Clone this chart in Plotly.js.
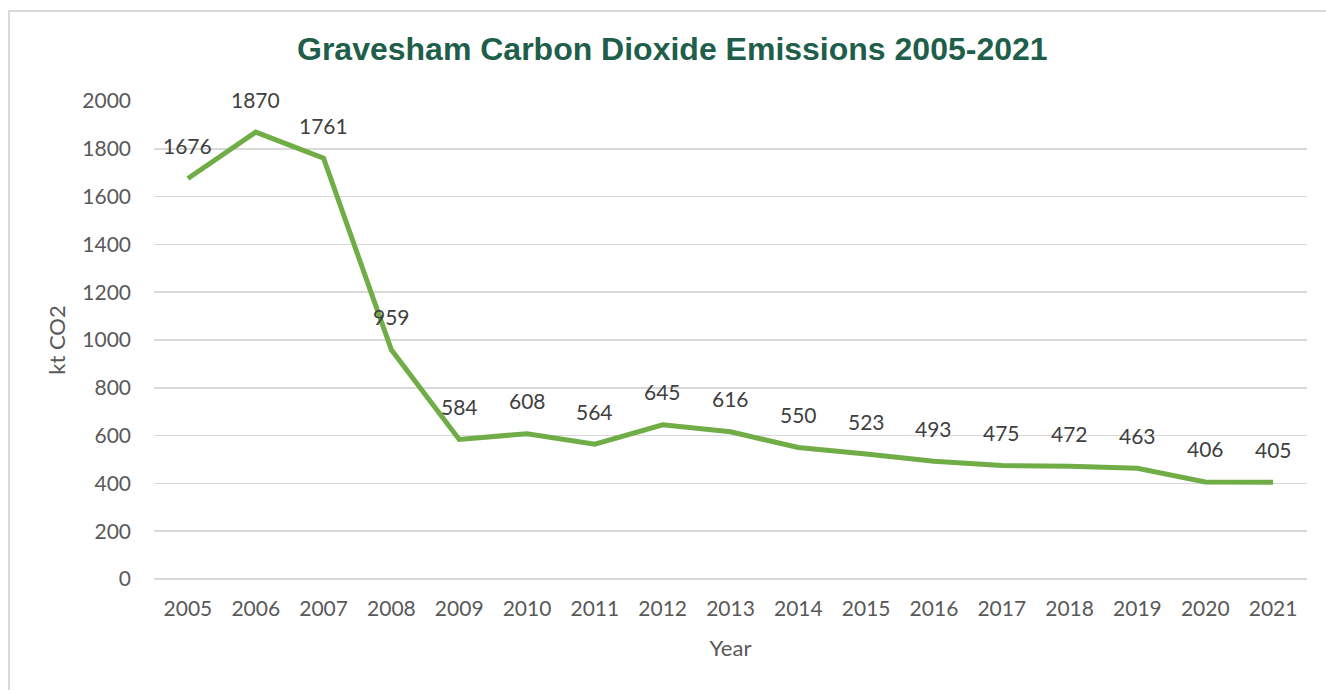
<!DOCTYPE html>
<html>
<head>
<meta charset="utf-8">
<script src="https://cdn.plot.ly/plotly-3.0.1.min.js"></script>
<style>
html,body{margin:0;padding:0;background:#fff;}
#wrap{position:relative;width:1326px;height:690px;overflow:hidden;}
#chart{width:1326px;height:690px;}
#frame{position:absolute;left:8px;top:10px;width:1400px;height:800px;border-top:2px solid #d9d9d9;border-left:2px solid #d9d9d9;pointer-events:none;}
</style>
</head>
<body>
<div id="wrap"><div id="chart"></div><div id="frame"></div></div>
<script>
const years = ['2005','2006','2007','2008','2009','2010','2011','2012','2013','2014','2015','2016','2017','2018','2019','2020','2021'];
const emissions = [1676,1870,1761,959,584,608,564,645,616,550,523,493,475,472,463,406,405];
const yTicks = [0,200,400,600,800,1000,1200,1400,1600,1800,2000];

const trace = {
  x: years, y: emissions, type: 'scatter', mode: 'lines',
  line: {color: '#70AD47', width: 5, shape: 'linear'},
  hoverinfo: 'x+y'
};

const labelFont = {family: 'Lato, "Open Sans", sans-serif', size: 21, color: '#404040'};
const annotations = years.map((yr, i) => ({
  x: i, y: emissions[i], xref: 'x', yref: 'y',
  text: String(emissions[i]), showarrow: false,
  yanchor: 'middle', xanchor: 'center', yshift: 33,
  font: labelFont
}));

const layout = {
  width: 1326, height: 690,
  margin: {l: 154, r: 19, t: 101, b: 111},
  paper_bgcolor: '#ffffff', plot_bgcolor: '#ffffff',
  showlegend: false,
  title: {
    text: 'Gravesham Carbon Dioxide Emissions 2005-2021',
    font: {family: '"Liberation Sans", Arial, sans-serif', size: 32, color: '#1E5E4A', weight: 'bold'},
    x: 0.507, xref: 'container', xanchor: 'center', y: 0.93, yref: 'container', yanchor: 'middle'
  },
  xaxis: {
    type: 'category', categoryorder: 'array', categoryarray: years,
    range: [-0.5, 16.5],
    showgrid: false, zeroline: false, showline: false, ticks: '',
    tickfont: {family: 'Lato, "Open Sans", sans-serif', size: 21, color: '#595959'},
    ticklabelstandoff: 15,
    title: {text: 'Year', font: {family: 'Lato, "Open Sans", sans-serif', size: 22, color: '#595959'}, standoff: 21}
  },
  yaxis: {
    range: [0, 2000], tickmode: 'array', tickvals: yTicks, ticktext: yTicks.map(String),
    showgrid: true, gridcolor: '#D9D9D9', gridwidth: 1.5,
    zeroline: true, zerolinecolor: '#D9D9D9', zerolinewidth: 1.5,
    showline: false, ticks: '',
    tickfont: {family: 'Lato, "Open Sans", sans-serif', size: 21, color: '#595959'},
    ticklabelstandoff: 22,
    title: {text: 'kt CO2', font: {family: 'Lato, "Open Sans", sans-serif', size: 22, color: '#595959'}, standoff: 10}
  },
  annotations: annotations
};

Plotly.newPlot('chart', [trace], layout, {displayModeBar: false, staticPlot: true});
</script>
</body>
</html>
